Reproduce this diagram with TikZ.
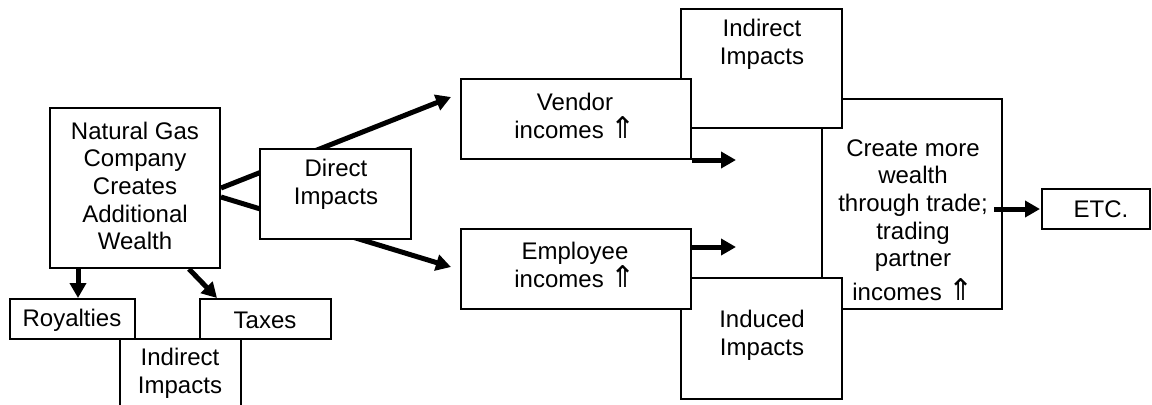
\documentclass[tikz,border=0pt]{standalone}
\usepackage{fontspec}
\setmainfont{Liberation Sans}
\newfontfamily\arrowfont{DejaVu Sans}
\usetikzlibrary{arrows.meta,fit,calc}
\newcommand{\uparr}{{\arrowfont\fontsize{15}{13.8}\selectfont ⇑}}

\tikzset{
  box/.style={draw, line width=1pt, fill=white, inner sep=0pt},
  txt/.style={align=center, inner sep=0pt, font=\fontsize{12}{13.8}\selectfont},
  arr/.style={line width=2.5pt, -{Triangle[length=7.5pt,width=8pt]}},
}

\begin{document}
\begin{tikzpicture}[x=0.5pt,y=-0.5pt]
\useasboundingbox (0,0) rectangle (1152,404);

% right hand boxes, back to front
\node[box, fit={(822,99) (1002,309)}] (create) {};
\node[box, fit={(681,9) (842,128)}] (indtop) {};
\node[box, fit={(681,278) (842,399)}] (induced) {};
\node[box, fit={(461,79) (691,159)}] (vendor) {};
\node[box, fit={(461,229) (691,309)}] (employee) {};
\node[box, fit={(1042,189) (1150,229)}] (etc) {};

% left hand boxes
\node[box, fit={(50,108) (220,268)}] (gas) {};
\node[box, fit={(10,299) (135,339)}] (roy) {};
\node[box, fit={(200,299) (331,339)}] (tax) {};
\node[box, fit={(120,339) (241,412)}] (indlow) {};

% arrows
\coordinate (vtip) at ($(vendor.north west)+(-9,19)$);
\coordinate (etip) at ($(employee.north west)+(-9,39)$);
\draw[arr] (gas.east) -- (vtip);
\draw[arr] ($(gas.east)+(0,9)$) -- (etip);
\draw[arr] ($(gas.south west)+(29,0)$) -- ($(roy.north west)+(69,0)$);
\draw[arr] ($(gas.south west)+(140,0)$) -- ($(tax.north west)+(18,0)$);
\coordinate (vout) at ($(vendor.south east)+(44,0)$);
\coordinate (eout) at ($(employee.north east)+(44,19)$);
\draw[arr] (vendor.south east) -- (vout);
\draw[arr] ($(employee.north east)+(0,19)$) -- (eout);
\draw[arr] ($(create.east |- etc.west)+(-9,0)$) -- ($(etc.west)+(-1,0)$);

\node[box, fit={(260,149) (411,239)}] (direct) {};

% texts
\node[txt] (gastxt) at (135,186) {Natural Gas\\Company\\Creates\\Additional\\Wealth};
\node[txt] (directtxt) at (336,184) {Direct\\Impacts};
\node[txt] (roytxt) at (72,320) {Royalties};
\node[txt] (taxtxt) at (265,320) {Taxes};
\node[txt] (indlowtxt) at (180,373) {Indirect\\Impacts};
\node[txt] (vendortxt) at (575,116) {Vendor\\incomes \uparr};
\node[txt] (employeetxt) at (575,265) {Employee\\incomes \uparr};
\node[txt] (indtoptxt) at (762,44) {Indirect\\Impacts};
\node[txt] (inducedtxt) at (762,335) {Induced\\Impacts};
\node[txt] (createtxt) at (913,220) {Create more\\wealth\\through trade;\\trading\\partner\\[3pt]incomes \uparr};
\node[txt] (etctxt) at (1101,209) {ETC.};
\end{tikzpicture}
\end{document}
